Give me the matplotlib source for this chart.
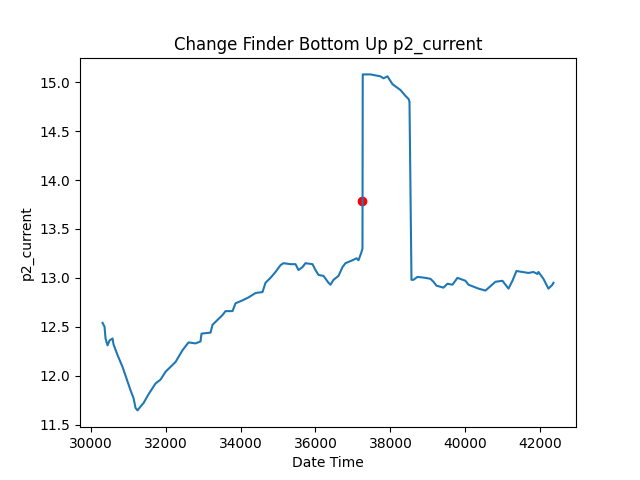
import matplotlib
matplotlib.use("Agg")
import matplotlib.pyplot as plt

# values
date_time = [30320, 30373, 30400, 30453, 30507, 30587, 30613, 30720, 30853, 30960,
             31067, 31147, 31200, 31253, 31333, 31413, 31547, 31733, 31867, 32000,
             32267, 32453, 32613, 32800, 32933, 32960, 33200, 33253, 33333, 33520,
             33600, 33787, 33867, 34053, 34213, 34400, 34587, 34667, 34800, 34933,
             35067, 35147, 35333, 35467, 35547, 35653, 35733, 35920, 36000, 36080,
             36213, 36347, 36400, 36480, 36613, 36720, 36800, 36987, 37093, 37147,
             37200, 37227, 37253, 37260, 37467, 37600, 37733, 37813, 37920, 38053,
             38267, 38400, 38480, 38507, 38560, 38613, 38720, 38933, 39067, 39147,
             39227, 39413, 39520, 39653, 39787, 40000, 40080, 40347, 40533, 40800,
             40987, 41147, 41253, 41360, 41680, 41813, 41920, 41947, 42080, 42213,
             42320, 42347]
p2_current = [12.54, 12.50, 12.38, 12.31, 12.36, 12.38, 12.32, 12.21, 12.09, 11.97,
              11.85, 11.77, 11.67, 11.645, 11.685, 11.72, 11.81, 11.92, 11.96, 12.04,
              12.14, 12.26, 12.34, 12.33, 12.35, 12.43, 12.44, 12.52, 12.55, 12.62,
              12.66, 12.66, 12.74, 12.77, 12.80, 12.845, 12.855, 12.95, 13.00, 13.06,
              13.13, 13.15, 13.14, 13.14, 13.08, 13.11, 13.15, 13.14, 13.08, 13.03,
              13.02, 12.95, 12.93, 12.98, 13.02, 13.11, 13.15, 13.18, 13.20, 13.18,
              13.235, 13.265, 13.30, 15.08, 15.08, 15.07, 15.06, 15.04, 15.06, 14.98,
              14.92, 14.86, 14.83, 14.80, 12.98, 12.98, 13.01, 13.00, 12.99, 12.96,
              12.92, 12.90, 12.94, 12.93, 13.00, 12.97, 12.93, 12.89, 12.87, 12.96,
              12.97, 12.89, 12.97, 13.07, 13.05, 13.06, 13.04, 13.06, 12.99, 12.89,
              12.93, 12.95]

change_x = [37253]
change_y = [13.79]

plt.figure(figsize=(6.4, 4.8), dpi=100)
plt.plot(date_time, p2_current)
plt.scatter(change_x, change_y, color="red")

plt.title("Change Finder Bottom Up p2_current")
plt.xlabel("Date Time")
plt.ylabel("p2_current")

plt.savefig("out.png")
